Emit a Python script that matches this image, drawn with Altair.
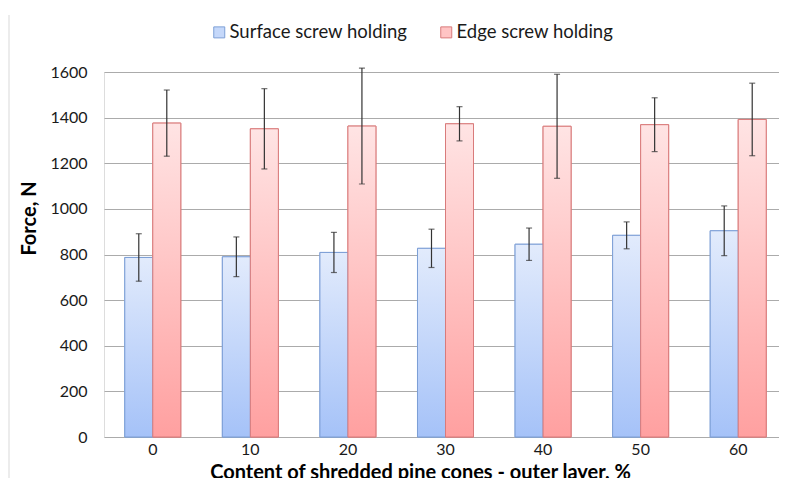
import altair as alt
import pandas as pd

categories = ["0", "10", "20", "30", "40", "50", "60"]
series_names = ["Surface screw holding", "Edge screw holding"]
surface_values = [787, 790, 809, 827, 845, 884, 904]
surface_sd = [104, 87, 88, 84, 71, 59, 109]
edge_values = [1376, 1351, 1363, 1373, 1362, 1369, 1392]
edge_sd = [145, 176, 254, 75, 228, 118, 159]
y_ticks = [0, 200, 400, 600, 800, 1000, 1200, 1400, 1600]

rows = []
for s, vals, sds in zip(series_names, [surface_values, edge_values], [surface_sd, edge_sd]):
    for c, v, d in zip(categories, vals, sds):
        rows.append({"cat": c, "series": s, "value": v, "lo": v - d, "hi": v + d})
df = pd.DataFrame(rows)

FONT = "Lato"

x_axis = alt.Axis(
    title="Content of shredded pine cones - outer layer, %",
    labelAngle=0, labelFont=FONT, labelFontSize=16, labelColor="#1a1a1a",
    labelPadding=4, domain=False, ticks=False, grid=False,
    titleFont=FONT, titleFontSize=20, titleFontWeight="bold", titleColor="#000000",
    titleX=316, titleY=41, titleBaseline="alphabetic", titleAlign="center",
)
y_axis = alt.Axis(
    title="Force, N", values=y_ticks, format="d",
    labelFont=FONT, labelFontSize=16, labelColor="#1a1a1a", labelPadding=17,
    domain=False, ticks=False, grid=True, gridColor="#ababab", gridWidth=1,
    titleFont=FONT, titleFontSize=20, titleFontWeight="bold", titleColor="#000000",
    titleX=-69, titleY=146, titleAngle=-90, titleBaseline="alphabetic", titleAlign="center",
)

x_scale = alt.Scale(paddingInner=0.426, paddingOuter=0.213)
y_scale = alt.Scale(domain=[0, 1600], nice=False)
xo_scale = alt.Scale(domain=series_names, paddingInner=0, paddingOuter=0)


def X():
    return alt.X("cat:N", sort=categories, scale=x_scale, axis=x_axis)


def XO():
    return alt.XOffset("series:N", sort=series_names, scale=xo_scale)


base = alt.Chart(df)

legend_bars = base.mark_bar(strokeWidth=1).encode(
    x=X(), xOffset=XO(),
    y=alt.Y("value:Q", scale=y_scale, axis=y_axis),
    color=alt.Color(
        "series:N", sort=series_names,
        scale=alt.Scale(domain=series_names, range=["#c5d8fa", "#ffc4c4"]),
        legend=alt.Legend(
            title=None, orient="none", direction="horizontal",
            legendX=106, legendY=-49, padding=0,
            symbolType="square", symbolSize=121, symbolStrokeWidth=1,
            labelFont=FONT, labelFontSize=18.5, labelColor="#1a1a1a",
            labelOffset=1, columnPadding=29, labelLimit=0,
        ),
    ),
    stroke=alt.Stroke(
        "series:N", sort=series_names,
        scale=alt.Scale(domain=series_names, range=["#7d9fd6", "#d97b7b"]),
        legend=alt.Legend(title=None),
    ),
)

grad_blue = {
    "gradient": "linear", "x1": 0, "y1": 0, "x2": 0, "y2": 1,
    "stops": [{"offset": 0, "color": "#e2ebfc"}, {"offset": 1, "color": "#a5c2f8"}],
}
grad_red = {
    "gradient": "linear", "x1": 0, "y1": 0, "x2": 0, "y2": 1,
    "stops": [{"offset": 0, "color": "#ffe4e4"}, {"offset": 1, "color": "#ffa0a0"}],
}

blue_bars = base.transform_filter(alt.datum.series == series_names[0]).mark_bar(
    fill=grad_blue, stroke="#7d9fd6", strokeWidth=1
).encode(x=X(), xOffset=XO(), y=alt.Y("value:Q", scale=y_scale, axis=y_axis))

red_bars = base.transform_filter(alt.datum.series == series_names[1]).mark_bar(
    fill=grad_red, stroke="#d97b7b", strokeWidth=1
).encode(x=X(), xOffset=XO(), y=alt.Y("value:Q", scale=y_scale, axis=y_axis))

err_rule = base.mark_rule(color="#333333", strokeWidth=1.2).encode(
    x=X(), xOffset=XO(),
    y=alt.Y("lo:Q", scale=y_scale, axis=y_axis), y2="hi:Q",
)
cap_lo = base.mark_tick(color="#333333", thickness=1.2, size=6).encode(
    x=X(), xOffset=XO(), y=alt.Y("lo:Q", scale=y_scale, axis=y_axis),
)
cap_hi = base.mark_tick(color="#333333", thickness=1.2, size=6).encode(
    x=X(), xOffset=XO(), y=alt.Y("hi:Q", scale=y_scale, axis=y_axis),
)

frame_line = alt.Chart(pd.DataFrame({"a": [0]})).mark_rule(color="#d9d9d9", strokeWidth=1).encode(
    x=alt.value(-95), y=alt.value(-57), y2=alt.value(413)
)

chart = alt.layer(
    frame_line, legend_bars, blue_bars, red_bars, err_rule, cap_lo, cap_hi
).properties(
    width=683, height=365,
    autosize=alt.AutoSizeParams(type="none"),
    padding={"left": 96, "top": 64, "right": -8, "bottom": 41},
).configure_view(stroke=None).configure(background="white")

chart.save("out.html", embed_options={"renderer": "svg", "actions": False})
